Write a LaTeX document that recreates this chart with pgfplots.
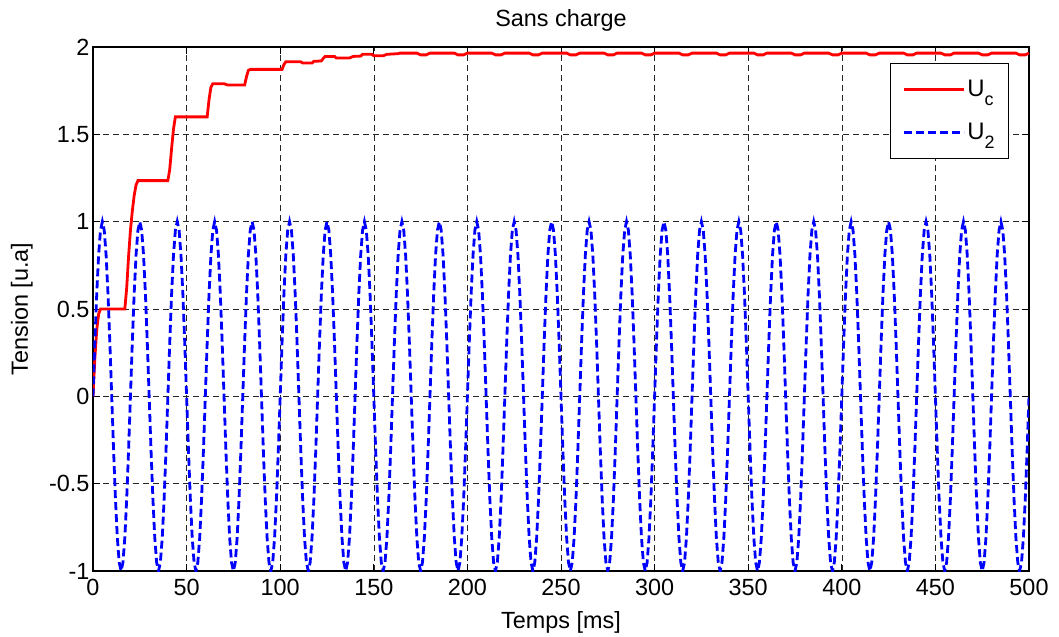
\documentclass[border=0pt]{standalone}
\usepackage{fontspec}
\setmainfont{Liberation Sans}
\usepackage{pgfplots}
\pgfplotsset{compat=1.18}
\begin{document}
\begin{tikzpicture}
\begin{axis}[
 name=ax,
 scale only axis,
 width=936bp, height=524bp,
 xmin=0, xmax=500, ymin=-1, ymax=2,
 xtick={0,50,...,500},
 ytick={-1,-0.5,0,0.5,1,1.5,2},
 yticklabels={-1,-0.5,0,0.5,1,1.5,2},
 font=\fontsize{23.5}{28}\selectfont,
 ticklabel style={font=\fontsize{23.5}{28}\selectfont},
 xticklabel style={yshift=-5bp},
 /pgf/number format/assume math mode=true,
 grid=major,
 major grid style={black!85, line width=0.6bp, dash pattern=on 6bp off 4bp},
 axis line style={line width=1.1bp},
 tick style={black, line width=0.8bp},
 major tick length=7bp,
 title={Sans charge},
 title style={at={(axis description cs:0.5,1.027)}, anchor=base},
 xlabel={Temps [ms]},
 xlabel style={at={(axis description cs:0.5,-0.109)}, anchor=base},
 ylabel={Tension [u.a]},
 ylabel style={at={(axis description cs:-0.076,0.5)}, anchor=center},
 legend style={at={(axis description cs:1,1)}, anchor=north east, xshift=-20bp, yshift=-16bp,
   draw=black, line width=0.8bp, font=\fontsize{24}{28}\selectfont,
   inner xsep=12bp, inner ysep=15bp, row sep=21bp},
 legend cell align=left,
 legend image code/.code={\draw[#1] (0bp,0bp) -- (60bp,0bp);},
]
\addplot[red, line width=2.8bp] coordinates {
(0,0)(1,0.22)(2,0.38)(3,0.47)(4,0.5)(17,0.5)(18,0.62)(19,0.8)(20,0.95)(21,1.06)(22,1.15)(23,1.21)(24,1.235)
(40,1.235)(41,1.3)(42,1.42)(43,1.53)(44,1.6)(61,1.6)(62,1.7)(63,1.77)(64,1.79)(70,1.79)(72,1.782)(81,1.782)
(82,1.83)(83,1.866)(84,1.872)(101,1.872)(102,1.9)(103,1.915)(111,1.915)(112,1.908)(117,1.908)(118,1.918)
(122,1.92)(123,1.935)(124,1.946)(129,1.946)(130,1.937)(137,1.937)(139,1.946)(143,1.948)(144,1.958)(149,1.958)
(150,1.95)(155,1.95)(157,1.958)(163,1.962)(164,1.965)
(173,1.965)(175,1.955)(178,1.955)(180,1.965)
(193,1.965)(195,1.955)(198,1.955)(200,1.965)
(213,1.965)(215,1.955)(218,1.955)(220,1.965)
(233,1.965)(235,1.955)(238,1.955)(240,1.965)
(253,1.965)(255,1.955)(258,1.955)(260,1.965)
(273,1.965)(275,1.955)(278,1.955)(280,1.965)
(293,1.965)(295,1.955)(298,1.955)(300,1.965)
(313,1.965)(315,1.955)(318,1.955)(320,1.965)
(333,1.965)(335,1.955)(338,1.955)(340,1.965)
(353,1.965)(355,1.955)(358,1.955)(360,1.965)
(373,1.965)(375,1.955)(378,1.955)(380,1.965)
(393,1.965)(395,1.955)(398,1.955)(400,1.965)
(413,1.965)(415,1.955)(418,1.955)(420,1.965)
(433,1.965)(435,1.955)(438,1.955)(440,1.965)
(453,1.965)(455,1.955)(458,1.955)(460,1.965)
(473,1.965)(475,1.955)(478,1.955)(480,1.965)
(493,1.965)(495,1.955)(498,1.955)(500,1.965)
};
\addlegendentry{U\raisebox{-0.35em}{\fontsize{18}{18}\selectfont c}}
\addplot[blue, line width=2.8bp, dash pattern=on 8bp off 4bp] coordinates {
(0,0)(1,.309)(2,.588)(3,.809)(4,.951)(5,1)(6,.951)(7,.809)(8,.588)(9,.309)(10,0)(11,-.309)(12,-.588)(13,-.809)(14,-.951)(15,-1)(16,-.951)(17,-.809)(18,-.588)(19,-.309)
(20,0)(21,.309)(22,.588)(23,.809)(24,.951)(25,1)(26,.951)(27,.809)(28,.588)(29,.309)(30,0)(31,-.309)(32,-.588)(33,-.809)(34,-.951)(35,-1)(36,-.951)(37,-.809)(38,-.588)(39,-.309)
(40,0)(41,.309)(42,.588)(43,.809)(44,.951)(45,1)(46,.951)(47,.809)(48,.588)(49,.309)(50,0)(51,-.309)(52,-.588)(53,-.809)(54,-.951)(55,-1)(56,-.951)(57,-.809)(58,-.588)(59,-.309)
(60,0)(61,.309)(62,.588)(63,.809)(64,.951)(65,1)(66,.951)(67,.809)(68,.588)(69,.309)(70,0)(71,-.309)(72,-.588)(73,-.809)(74,-.951)(75,-1)(76,-.951)(77,-.809)(78,-.588)(79,-.309)
(80,0)(81,.309)(82,.588)(83,.809)(84,.951)(85,1)(86,.951)(87,.809)(88,.588)(89,.309)(90,0)(91,-.309)(92,-.588)(93,-.809)(94,-.951)(95,-1)(96,-.951)(97,-.809)(98,-.588)(99,-.309)
(100,0)(101,.309)(102,.588)(103,.809)(104,.951)(105,1)(106,.951)(107,.809)(108,.588)(109,.309)(110,0)(111,-.309)(112,-.588)(113,-.809)(114,-.951)(115,-1)(116,-.951)(117,-.809)(118,-.588)(119,-.309)
(120,0)(121,.309)(122,.588)(123,.809)(124,.951)(125,1)(126,.951)(127,.809)(128,.588)(129,.309)(130,0)(131,-.309)(132,-.588)(133,-.809)(134,-.951)(135,-1)(136,-.951)(137,-.809)(138,-.588)(139,-.309)
(140,0)(141,.309)(142,.588)(143,.809)(144,.951)(145,1)(146,.951)(147,.809)(148,.588)(149,.309)(150,0)(151,-.309)(152,-.588)(153,-.809)(154,-.951)(155,-1)(156,-.951)(157,-.809)(158,-.588)(159,-.309)
(160,0)(161,.309)(162,.588)(163,.809)(164,.951)(165,1)(166,.951)(167,.809)(168,.588)(169,.309)(170,0)(171,-.309)(172,-.588)(173,-.809)(174,-.951)(175,-1)(176,-.951)(177,-.809)(178,-.588)(179,-.309)
(180,0)(181,.309)(182,.588)(183,.809)(184,.951)(185,1)(186,.951)(187,.809)(188,.588)(189,.309)(190,0)(191,-.309)(192,-.588)(193,-.809)(194,-.951)(195,-1)(196,-.951)(197,-.809)(198,-.588)(199,-.309)
(200,0)(201,.309)(202,.588)(203,.809)(204,.951)(205,1)(206,.951)(207,.809)(208,.588)(209,.309)(210,0)(211,-.309)(212,-.588)(213,-.809)(214,-.951)(215,-1)(216,-.951)(217,-.809)(218,-.588)(219,-.309)
(220,0)(221,.309)(222,.588)(223,.809)(224,.951)(225,1)(226,.951)(227,.809)(228,.588)(229,.309)(230,0)(231,-.309)(232,-.588)(233,-.809)(234,-.951)(235,-1)(236,-.951)(237,-.809)(238,-.588)(239,-.309)
(240,0)(241,.309)(242,.588)(243,.809)(244,.951)(245,1)(246,.951)(247,.809)(248,.588)(249,.309)(250,0)(251,-.309)(252,-.588)(253,-.809)(254,-.951)(255,-1)(256,-.951)(257,-.809)(258,-.588)(259,-.309)
(260,0)(261,.309)(262,.588)(263,.809)(264,.951)(265,1)(266,.951)(267,.809)(268,.588)(269,.309)(270,0)(271,-.309)(272,-.588)(273,-.809)(274,-.951)(275,-1)(276,-.951)(277,-.809)(278,-.588)(279,-.309)
(280,0)(281,.309)(282,.588)(283,.809)(284,.951)(285,1)(286,.951)(287,.809)(288,.588)(289,.309)(290,0)(291,-.309)(292,-.588)(293,-.809)(294,-.951)(295,-1)(296,-.951)(297,-.809)(298,-.588)(299,-.309)
(300,0)(301,.309)(302,.588)(303,.809)(304,.951)(305,1)(306,.951)(307,.809)(308,.588)(309,.309)(310,0)(311,-.309)(312,-.588)(313,-.809)(314,-.951)(315,-1)(316,-.951)(317,-.809)(318,-.588)(319,-.309)
(320,0)(321,.309)(322,.588)(323,.809)(324,.951)(325,1)(326,.951)(327,.809)(328,.588)(329,.309)(330,0)(331,-.309)(332,-.588)(333,-.809)(334,-.951)(335,-1)(336,-.951)(337,-.809)(338,-.588)(339,-.309)
(340,0)(341,.309)(342,.588)(343,.809)(344,.951)(345,1)(346,.951)(347,.809)(348,.588)(349,.309)(350,0)(351,-.309)(352,-.588)(353,-.809)(354,-.951)(355,-1)(356,-.951)(357,-.809)(358,-.588)(359,-.309)
(360,0)(361,.309)(362,.588)(363,.809)(364,.951)(365,1)(366,.951)(367,.809)(368,.588)(369,.309)(370,0)(371,-.309)(372,-.588)(373,-.809)(374,-.951)(375,-1)(376,-.951)(377,-.809)(378,-.588)(379,-.309)
(380,0)(381,.309)(382,.588)(383,.809)(384,.951)(385,1)(386,.951)(387,.809)(388,.588)(389,.309)(390,0)(391,-.309)(392,-.588)(393,-.809)(394,-.951)(395,-1)(396,-.951)(397,-.809)(398,-.588)(399,-.309)
(400,0)(401,.309)(402,.588)(403,.809)(404,.951)(405,1)(406,.951)(407,.809)(408,.588)(409,.309)(410,0)(411,-.309)(412,-.588)(413,-.809)(414,-.951)(415,-1)(416,-.951)(417,-.809)(418,-.588)(419,-.309)
(420,0)(421,.309)(422,.588)(423,.809)(424,.951)(425,1)(426,.951)(427,.809)(428,.588)(429,.309)(430,0)(431,-.309)(432,-.588)(433,-.809)(434,-.951)(435,-1)(436,-.951)(437,-.809)(438,-.588)(439,-.309)
(440,0)(441,.309)(442,.588)(443,.809)(444,.951)(445,1)(446,.951)(447,.809)(448,.588)(449,.309)(450,0)(451,-.309)(452,-.588)(453,-.809)(454,-.951)(455,-1)(456,-.951)(457,-.809)(458,-.588)(459,-.309)
(460,0)(461,.309)(462,.588)(463,.809)(464,.951)(465,1)(466,.951)(467,.809)(468,.588)(469,.309)(470,0)(471,-.309)(472,-.588)(473,-.809)(474,-.951)(475,-1)(476,-.951)(477,-.809)(478,-.588)(479,-.309)
(480,0)(481,.309)(482,.588)(483,.809)(484,.951)(485,1)(486,.951)(487,.809)(488,.588)(489,.309)(490,0)(491,-.309)(492,-.588)(493,-.809)(494,-.951)(495,-1)(496,-.951)(497,-.809)(498,-.588)(499,-.309)
(500,0)
};
\addlegendentry{U\raisebox{-0.35em}{\fontsize{18}{18}\selectfont 2}}
\end{axis}
\pgfresetboundingbox
\path[use as bounding box] ([xshift=-93bp,yshift=-66bp]ax.south west) rectangle ([xshift=30bp,yshift=47bp]ax.north east);
\end{tikzpicture}
\end{document}
